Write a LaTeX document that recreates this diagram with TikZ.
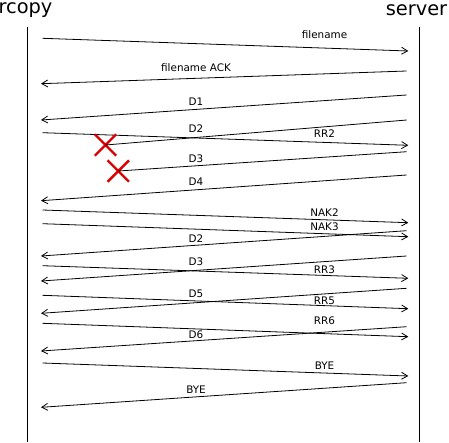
\documentclass[tikz,border=0pt]{standalone}
\usepackage{fontspec}
\setmainfont{DejaVu Sans}
\usetikzlibrary{arrows.meta,positioning,shapes.misc}
\definecolor{lossred}{RGB}{221,0,0}

\begin{document}
\begin{tikzpicture}[x=1pt,y=-1pt,>={Straight Barb[length=6pt,width=7pt]},line width=0.8pt]
\tikzstyle{actor} = [font=\fontsize{19.4}{22}\selectfont,anchor=base,inner sep=0pt]
\tikzstyle{msg} = [font=\fontsize{10.4}{12}\selectfont,inner sep=0pt]
\tikzstyle{lost} = [cross out,draw=lossred,line width=2.4pt,minimum size=19pt,inner sep=0pt]
\useasboundingbox (0,0) rectangle (449,442);
    \node[actor] (rcopy) at (25.5,13.5) {rcopy};
    \node[actor] (server) at (416.5,15.5) {server};
    \coordinate (rtop) at (27.5,27);
    \coordinate (rbot) at (27.5,442);
    \coordinate (stop) at (419.5,27);
    \coordinate (sbot) at (419.5,442);
    \draw (rtop) -- (rbot);
    \draw (stop) -- (sbot);

    % rcopy -> server
    \foreach \name/\ya/\yb/\ly/\txt in {fn/38.3/51/34.5/filename, rr2/132.7/145.3/134/RR2,
        nak2/210/222.7/212.5/NAK2, nak3/223.7/236.7/226.5/NAK3, rr3/265.7/278.3/270/RR3,
        rr5/295.3/308.7/300.5/RR5, rr6/323.3/336.7/320.5/RR6, bye/363/376/365.5/BYE}{
        \coordinate (\name-a) at (42.5,\ya);
        \coordinate (\name-b) at (408.3,\yb);
        \draw[->] (\name-a) -- (\name-b);
        \node[msg] (\name-lbl) at (324.5,\ly) {\txt};
    }

    % server -> rcopy
    \foreach \name/\ya/\yb/\ly/\txt in {ack/71/83.7/67.5/filename ACK, d1/95/120/102/D1,
        d4/175/200.7/181.5/D4, d2r/230.7/256/238.5/D2, d3r/256/281/262/D3,
        d5/288.3/313.3/294/D5, d6/326.7/351/334.5/D6, byeb/382.7/407.3/389.5/BYE}{
        \coordinate (\name-a) at (406.5,\ya);
        \coordinate (\name-b) at (41,\yb);
        \draw[->] (\name-a) -- (\name-b);
        \node[msg] (\name-lbl) at (196,\ly) {\txt};
    }

    % lost frames
    \node[lost] (x2) at (105.5,145) {};
    \node[lost] (x3) at (118.3,171) {};
    \coordinate (d2-a) at (406.7,120);
    \coordinate (d3-a) at (406.7,151.7);
    \draw (d2-a) -- (x2.center);
    \draw (d3-a) -- (x3.center);
    \node[msg] (d2-lbl) at (196,129) {D2};
    \node[msg] (d3-lbl) at (196,158.5) {D3};
\end{tikzpicture}
\end{document}
